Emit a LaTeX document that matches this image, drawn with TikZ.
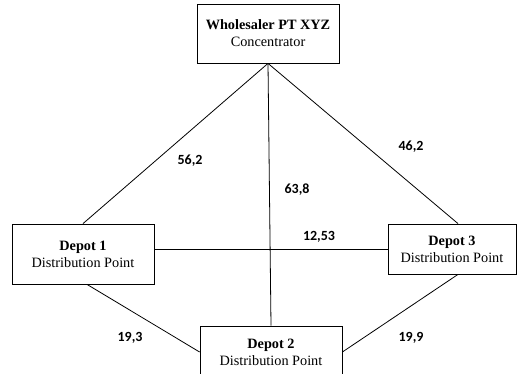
\documentclass[tikz,border=0pt]{standalone}
\usepackage{fontspec}
\setmainfont{Liberation Serif}
\newfontfamily\distfont{Carlito}
\usetikzlibrary{calc}

\begin{document}
\begin{tikzpicture}[x=0.75pt, y=-0.75pt, line width=0.6pt,
  every node/.style={inner sep=1.5pt},
  box/.style={draw, align=center, minimum width=106.5pt,
    font=\fontsize{10.7}{12.8}\selectfont},
  dist/.style={font=\distfont\bfseries\fontsize{10.5}{12}\selectfont}]
  \useasboundingbox (0,0) rectangle (517,374);
  \clip (0,0) rectangle (517,374);
  \node[box, minimum height=44.25pt] (ws) at (268,33.5) {\textbf{Wholesaler PT XYZ}\\Concentrator};
  \node[box, minimum height=45pt] (d1) at (83,254) {\textbf{Depot 1}\\Distribution Point};
  \node[box, minimum height=39pt] (d2) at (271,352) {\textbf{Depot 2}\\Distribution Point};
  \node[box, minimum width=96pt, minimum height=37.5pt] (d3) at (452,249) {\textbf{Depot 3}\\Distribution Point};
  \draw (ws.south) -- (d1.north);
  \draw (ws.south) -- (d2.north);
  \draw (ws.south) -- ($(d3.north)+(6,0)$);
  \draw ([yshift=3.75pt]d1.east) -- (d3.west);
  \draw ($(d1.south)+(4,0)$) -- (d2.west);
  \draw ($(d3.south)+(6,0)$) -- (d2.east);
  \node[dist] (w1) at (190,161) {56,2};
  \node[dist] (w3) at (411,147) {46,2};
  \node[dist] (w2) at (297,190) {63,8};
  \node[dist] (w13) at (319,237) {12,53};
  \node[dist] (w12) at (130,338) {19,3};
  \node[dist] (w32) at (411,338) {19,9};
\end{tikzpicture}
\end{document}
